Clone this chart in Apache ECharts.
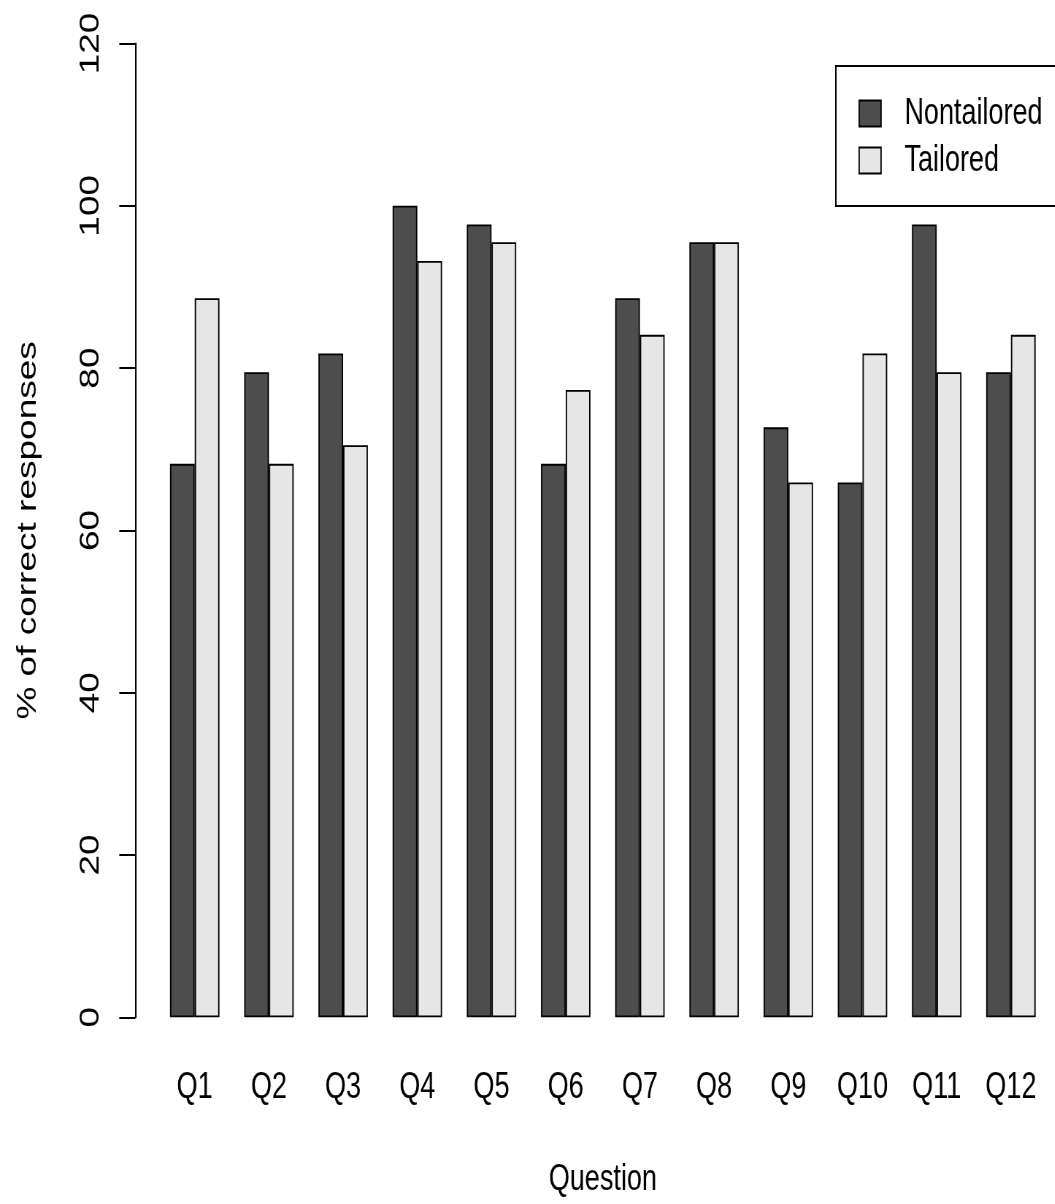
<!DOCTYPE html>
<html>
<head>
<meta charset="utf-8">
<script src="https://cdn.jsdelivr.net/npm/echarts@6/dist/echarts.min.js"></script>
<style>
  html, body { margin: 0; padding: 0; background: #fff; overflow: hidden; width: 1055px; height: 1204px; }
  #chart { width: 1500px; height: 1204px; transform: scaleX(0.73); transform-origin: 0 0; }
</style>
</head>
<body>
<div id="chart"></div>
<script>
// Data
const categories = ['Q1', 'Q2', 'Q3', 'Q4', 'Q5', 'Q6', 'Q7', 'Q8', 'Q9', 'Q10', 'Q11', 'Q12'];
const nontailored = [68.2, 79.5, 81.8, 100, 97.7, 68.2, 88.6, 95.5, 72.7, 65.9, 97.7, 79.5];
const tailored = [88.6, 68.2, 70.5, 93.2, 95.5, 77.3, 84.1, 95.5, 65.9, 81.8, 79.5, 84.1];
const seriesNames = ['Nontailored', 'Tailored'];
const yMin = 0, yMax = 120, yStep = 20;

const FONT = "'Liberation Sans', Arial, sans-serif";
const chart = echarts.init(document.getElementById('chart'), null, { renderer: 'canvas' });

chart.setOption({
  animation: false,
  backgroundColor: '#ffffff',
  textStyle: { fontFamily: FONT, color: '#000' },
  grid: { left: 215.9, width: 1219.7, top: 43.5, height: 973.8, containLabel: false },
  legend: {
    data: seriesNames,
    orient: 'vertical',
    left: 1145,
    top: 66,
    padding: [29, 40, 27, 31],
    itemWidth: 30,
    itemHeight: 26,
    itemGap: 10,
    icon: 'rect',
    borderColor: '#000',
    borderWidth: 2,
    itemStyle: { borderColor: '#000', borderWidth: 1.8 },
    textStyle: { fontFamily: FONT, fontSize: 37, color: '#000', padding: [0, 0, 0, 27], lineHeight: 26 }
  },
  xAxis: {
    type: 'category',
    data: categories,
    axisLine: { show: false },
    axisTick: { show: false },
    axisLabel: { margin: 52, fontSize: 37, color: '#000', fontFamily: FONT, interval: 0 },
    name: 'Question',
    nameLocation: 'middle',
    nameGap: 144,
    nameTextStyle: { fontSize: 37, color: '#000', fontFamily: FONT }
  },
  yAxis: {
    type: 'value',
    min: yMin,
    max: yMax,
    interval: yStep,
    offset: 30.5,
    axisLine: { show: true, lineStyle: { color: '#000', width: 2 } },
    axisTick: { show: true, length: 22, lineStyle: { color: '#000', width: 2 } },
    splitLine: { show: false },
    axisLabel: { rotate: 90, margin: 42, fontSize: 37, color: '#000', fontFamily: FONT },
    name: '% of correct responses',
    nameLocation: 'middle',
    nameRotate: 90,
    nameGap: 128,
    nameTextStyle: { fontSize: 37, color: '#000', fontFamily: FONT }
  },
  series: [
    {
      name: seriesNames[0],
      type: 'bar',
      data: nontailored,
      barWidth: 33.88,
      barGap: '0%',
      itemStyle: { color: '#4d4d4d', borderColor: '#000', borderWidth: 1.8 }
    },
    {
      name: seriesNames[1],
      type: 'bar',
      data: tailored,
      barWidth: 33.88,
      barGap: '0%',
      itemStyle: { color: '#e6e6e6', borderColor: '#000', borderWidth: 1.8 }
    }
  ]
});
</script>
</body>
</html>
